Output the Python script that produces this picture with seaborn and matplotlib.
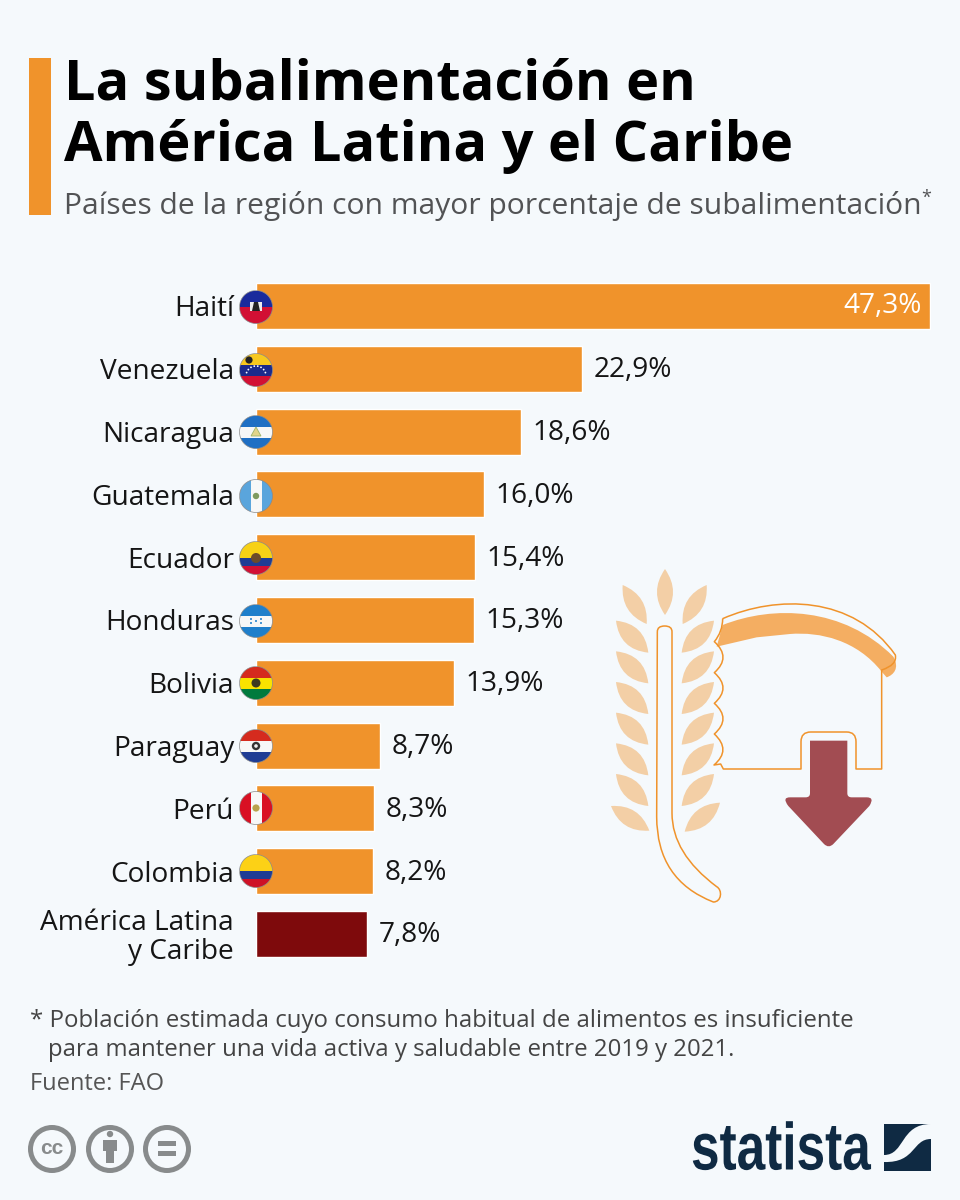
import numpy as np
import pandas as pd
import matplotlib
matplotlib.use("Agg")
import matplotlib.pyplot as plt
import seaborn as sns
from matplotlib.patches import Rectangle, Circle, Polygon, PathPatch
from matplotlib.path import Path
from matplotlib.patheffects import AbstractPathEffect
from matplotlib.transforms import Affine2D

countries = ["Haití", "Venezuela", "Nicaragua", "Guatemala", "Ecuador", "Honduras",
             "Bolivia", "Paraguay", "Perú", "Colombia", "América Latina\ny Caribe"]
values = [47.3, 22.9, 18.6, 16.0, 15.4, 15.3, 13.9, 8.7, 8.3, 8.2, 7.8]
groups = ["país"] * 10 + ["región"]

BG = "#F5F9FC"; ORANGE = "#F0932B"; DARK = "#7E0A0C"; NAVY = "#0F2A43"
LEAF = "#F3CFA6"; CRUST = "#F4AE62"; ARROW = "#A24C52"; GREY = "#888B8C"

sns.set_theme(style="white")
plt.rcParams["font.family"] = ["Open Sans", "DejaVu Sans"]

W, H = 960, 1200
fig = plt.figure(figsize=(9.6, 12), dpi=100, facecolor=BG)

# ---------- bar chart ----------
top, step = 306.0, 62.8
y0 = top - step / 2
y1 = top + step * 10.5
ax = fig.add_axes([255.5 / W, 1 - y1 / H, (930.5 - 255.5) / W, (y1 - y0) / H])
df = pd.DataFrame({"pais": countries, "valor": values, "grupo": groups})
sns.barplot(data=df, x="valor", y="pais", hue="grupo", dodge=False, legend=False,
            palette={"país": ORANGE, "región": DARK}, width=0.73, saturation=1, ax=ax)
ax.set_xlim(0, max(values))
ax.set_ylim(10.5, -0.5)
ax.patch.set_alpha(0)
sns.despine(ax=ax, left=True, bottom=True)
ax.set_xlabel(""); ax.set_ylabel(""); ax.set_xticks([])
ax.tick_params(axis="y", length=0, pad=15.4)
for lab in ax.get_yticklabels():
    lab.set_fontsize(20.2); lab.set_color("#151515"); lab.set_linespacing(1.0)
for i, v in enumerate(values):
    s = f"{v:.1f}".replace(".", ",") + "%"
    if v == max(values):
        ax.annotate(s, (v, i), xytext=(-6, 0), textcoords="offset points", ha="right",
                    va="center", color="white", fontsize=20.2)
    else:
        ax.annotate(s, (v, i), xytext=(8.4, -1.0), textcoords="offset points", ha="left",
                    va="center", color="#151515", fontsize=20.2)

# ---------- overlay in pixel coordinates ----------
ov = fig.add_axes([0, 0, 1, 1])
ov.set_xlim(0, W); ov.set_ylim(H, 0); ov.axis("off"); ov.patch.set_alpha(0)

ov.add_patch(Rectangle((29, 58), 22, 157, fc=ORANGE, ec="none"))
ov.text(64, 99, "La subalimentación en", fontsize=40.25, fontweight="bold", color="black", va="baseline")
ov.text(64, 161, "América Latina y el Caribe", fontsize=40.25, fontweight="bold", color="black", va="baseline")
ov.text(64, 206, "Países de la región con mayor porcentaje de subalimentación", fontsize=21.6,
        color="#525355", va="center")
ov.text(921, 198, "*", fontsize=13, color="#525355", va="center")

ov.text(30, 1021, "* Población estimada cuyo consumo habitual de alimentos es insuficiente",
        fontsize=17.25, color="#444", va="center")
ov.text(48, 1050, "para mantener una vida activa y saludable entre 2019 y 2021.",
        fontsize=17.25, color="#444", va="center")
ov.text(30, 1084, "Fuente: FAO", fontsize=17.0, color="#555", va="center")

# ---------- flags ----------
def flag(cy, stripes, vertical=False, cx=256, r=16.5):
    clip = Circle((cx, cy), r, transform=ov.transData)
    pos = -r
    for col, frac in stripes:
        size = 2 * r * frac
        if vertical:
            p = Rectangle((cx + pos, cy - r), size, 2 * r, fc=col, ec="none")
        else:
            p = Rectangle((cx - r, cy + pos), 2 * r, size, fc=col, ec="none")
        ov.add_patch(p); p.set_clip_path(clip)
        pos += size
    ov.add_patch(Circle((cx, cy), r, fc="none", ec="#8a8a8a", lw=0.5))

t = 1 / 3
ys = [307, 370, 432, 496, 558, 621, 683, 746, 808, 871]
flag(ys[0], [("#1A2A9C", .5), ("#D21034", .5)])
ov.add_patch(Rectangle((250, 302), 12, 9, fc="#EDEDED", ec="none"))
ov.add_patch(Polygon([(252, 311), (254, 302), (258, 302), (260, 311)], fc="#222", ec="none"))
flag(ys[1], [("#F7C81E", t), ("#1A2A8C", t), ("#D21034", t)])
ov.add_patch(Circle((249, 360), 3.6, fc="#222", ec="none"))
for a in np.linspace(200, 340, 8):
    ov.add_patch(Circle((256 + 10 * np.cos(np.radians(a)), 376 + 10 * np.sin(np.radians(a))), 0.9, fc="white", ec="none"))
flag(ys[2], [("#1F6FC4", t), ("#F7F7F7", t), ("#1F6FC4", t)])
ov.add_patch(Polygon([(251, 436), (256, 427), (261, 436)], fc="#E3D58A", ec="#9DB36B", lw=0.6))
flag(ys[3], [("#5AA5DC", t), ("#F7F7F7", t), ("#5AA5DC", t)], vertical=True)
ov.add_patch(Circle((256, 496), 3.2, fc="#7E9A5F", ec="none"))
flag(ys[4], [("#F7D116", .5), ("#1F3C94", .25), ("#D21034", .25)])
ov.add_patch(Circle((256, 558), 5, fc="#6B4B2A", ec="none"))
flag(ys[5], [("#1F7FCB", t), ("#F7F7F7", t), ("#1F7FCB", t)])
for dx, dy in [(-5, -2), (5, -2), (0, 0), (-5, 2), (5, 2)]:
    ov.add_patch(Circle((256 + dx, 621 + dy), 1.0, fc="#1F7FCB", ec="none"))
flag(ys[6], [("#D52B1E", t), ("#F9E300", t), ("#007A3D", t)])
ov.add_patch(Circle((256, 683), 4.5, fc="#3E3A20", ec="none"))
flag(ys[7], [("#D52B1E", t), ("#F7F7F7", t), ("#1F3C94", t)])
ov.add_patch(Circle((256, 746), 4.2, fc="#333", ec="none"))
ov.add_patch(Circle((256, 746), 1.8, fc="#EEE", ec="none"))
flag(ys[8], [("#D91023", t), ("#F7F7F7", t), ("#D91023", t)], vertical=True)
ov.add_patch(Circle((256, 808), 3.6, fc="#B9A24C", ec="none"))
flag(ys[9], [("#FCD116", .5), ("#1F3C94", .25), ("#CE1126", .25)])

# ---------- wheat illustration (zoom coords -> px) ----------
def z(x, y):
    return (600 + x / 3, 560 + y / 3)

def leaf(tip, base, bulge=0.32, color=LEAF):
    tx, ty = z(*tip); bx, by = z(*base)
    dx, dy = bx - tx, by - ty
    nx, ny = -dy, dx
    mx, my = (tx + bx) / 2, (ty + by) / 2
    c1 = (mx + nx * bulge, my + ny * bulge)
    c2 = (mx - nx * bulge, my - ny * bulge)
    ov.add_patch(PathPatch(Path([(tx, ty), c1, (bx, by), c2, (tx, ty)],
                                [Path.MOVETO, Path.CURVE3, Path.CURVE3, Path.CURVE3, Path.CURVE3]),
                           fc=color, ec="none"))

leaf((195, 27), (195, 165), .35)
leaf((68, 75), (140, 192), .36)
leaf((320, 75), (248, 192), .36)
for yy in [182, 274, 366, 458, 550, 642]:
    leaf((48, yy), (145, yy + 96), .40)
    leaf((342, yy), (245, yy + 96), .40)
leaf((33, 738), (148, 812), .37)
leaf((360, 728), (254, 815), .37)

def outline(pts, codes, **kw):
    ov.add_patch(PathPatch(Path([z(*p) for p in pts], codes), **kw))

M, L, C3, C4 = Path.MOVETO, Path.LINETO, Path.CURVE3, Path.CURVE4
stem = [(172, 215), (172, 198), (194, 198), (216, 198), (216, 215),
        (216, 760), (216, 880), (350, 980),
        (368, 990), (365, 1026), (340, 1026),
        (170, 960), (170, 770), (172, 215)]
stem_c = [M, C3, C3, C3, C3, L, C3, C3, C4, C4, C4, C3, C3, L]
outline(stem, stem_c, fc="none", ec=ORANGE, lw=1.1)

# crust fill
crust = [(350, 260), (368, 195), (520, 135), (730, 140), (880, 290), (900, 325), (880, 345), (860, 352),
         (845, 335), (770, 240), (660, 215), (570, 222), (470, 232), (350, 260)]
crust_c = [M, L, C4, C4, C4, C4, C4, C4, L, C4, C4, C4, L, L]
outline(crust, crust_c, fc=CRUST, ec="none")

# bread outline
bread = [(368, 176), (530, 105), (760, 105), (886, 285), (892, 315), (845, 330),
         (845, 627), (768, 627), (768, 545), (768, 516), (740, 516), (632, 516),
         (603, 516), (603, 545), (603, 627), (370, 627), (362, 612), (342, 615),
         (395, 570), (343, 522), (395, 476), (343, 430), (395, 384), (343, 338),
         (395, 292), (343, 245), (368, 215), (368, 176)]
bread_c = [M, C4, C4, C4, C3, C3,
           L, L, L, C3, C3, L,
           C3, C3, L, L, L, L,
           C3, C3, C3, C3, C3, C3,
           C3, C3, C3, C3]
outline(bread, bread_c, fc="none", ec=ORANGE, lw=1.1, joinstyle="round")

arrow = [(630, 542), (742, 542), (742, 700), (742, 712), (755, 712), (800, 712),
         (825, 712), (808, 738), (700, 852), (686, 866), (672, 852), (565, 738),
         (545, 712), (570, 712), (617, 712), (630, 712), (630, 700), (630, 542)]
arrow_c = [M, L, L, C3, C3, L, C3, C3, L, C3, C3, L, C3, C3, L, C3, C3, L]
outline(arrow, arrow_c, fc=ARROW, ec="none")

# ---------- licence icons ----------
for cx in [52, 110, 167]:
    ov.add_patch(Circle((cx, 1149), 21.5, fc="none", ec=GREY, lw=3.6))
ov.text(52, 1148, "cc", fontsize=15, fontweight="bold", color=GREY, ha="center", va="center",
        family=["Liberation Sans", "DejaVu Sans"])
ov.add_patch(Circle((110, 1134), 3.2, fc=GREY, ec="none"))
ov.add_patch(Rectangle((103, 1140), 14, 11, fc=GREY, ec="none"))
ov.add_patch(Rectangle((106, 1150), 8, 13, fc=GREY, ec="none"))
ov.add_patch(Rectangle((158, 1141), 18, 5, fc=GREY, ec="none"))
ov.add_patch(Rectangle((158, 1151), 18, 5, fc=GREY, ec="none"))

# ---------- statista logo ----------
class Squeeze(AbstractPathEffect):
    """Narrow the glyph outlines horizontally around one anchor, in display space."""
    def __init__(self, x0, sx):
        super().__init__()
        self.x0, self.sx = x0, sx
    def draw_path(self, renderer, gc, tpath, affine, rgbFace=None):
        extra = Affine2D().translate(-self.x0, 0).scale(self.sx, 1).translate(self.x0, 0)
        renderer.draw_path(gc, tpath, affine + extra, rgbFace)

ov.text(691, 1169.5, "statista", fontsize=48, fontweight="bold", color=NAVY, ha="left", va="baseline",
        family=["Liberation Sans", "DejaVu Sans"], path_effects=[Squeeze(691, 0.77)])
ov.add_patch(Rectangle((884, 1124), 47, 47, fc=NAVY, ec="none"))
swoosh = [(884, 1155), (905, 1155), (900, 1124), (931, 1124),
          (931, 1139), (912, 1139), (916, 1163), (884, 1162)]
ov.add_patch(PathPatch(Path(swoosh, [M, C4, C4, C4, L, C4, C4, C4]), fc=BG, ec="none"))

fig.savefig("out.png", dpi=100, facecolor=BG)
